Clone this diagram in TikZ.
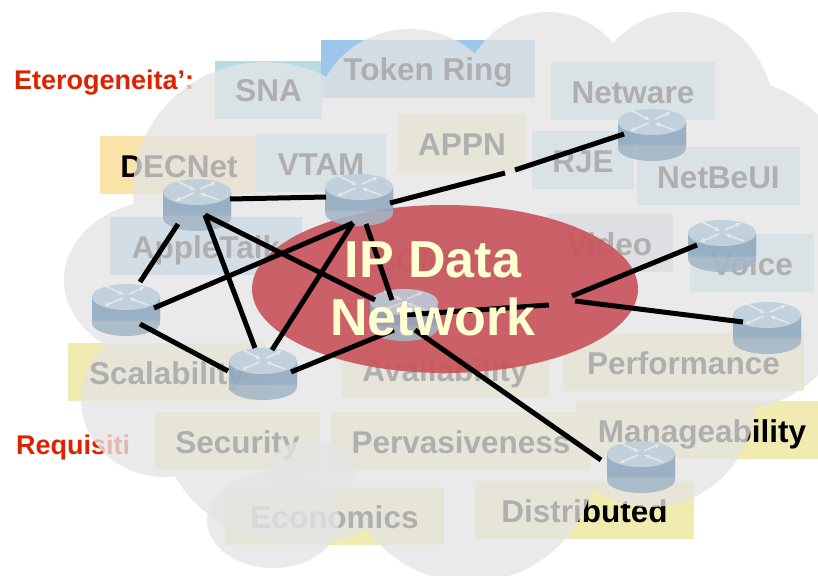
\documentclass[tikz,border=0pt]{standalone}
\usepackage{fontspec}
\setmainfont{Liberation Sans}
\usetikzlibrary{arrows.meta}
\definecolor{ipcol}{HTML}{FFFFD0}
\definecolor{hd}{HTML}{DD2200}
\definecolor{ye}{HTML}{F0EBB0}
\definecolor{bl}{HTML}{9CC6EA}
\definecolor{te}{HTML}{B8DCE4}
\definecolor{or}{HTML}{FAE3A8}
\definecolor{li}{HTML}{CDD0E0}
\definecolor{cloudc}{HTML}{E4E4E4}
\definecolor{ipred}{HTML}{C9525A}
\definecolor{rtop}{HTML}{BCCFDC}
\definecolor{rmid}{HTML}{8FA9BF}
\definecolor{rlow}{HTML}{A3B6C6}
\definecolor{rline}{HTML}{8E9CA8}
\definecolor{rarrow}{HTML}{E6E9EA}
\newcommand{\rectlab}[7]{\fill[#5] (#1,#2) rectangle (#3,#4);
  \node[lan,anchor=base] (#7) at ({(#1+#3)/2},{(#2+#4)/2+12}) {#6};}
\newcommand{\routerat}[3]{\node[coordinate] (#1) at (#2,#3) {};
  \begin{scope}[shift={(#2,#3)},transparency group,opacity=.88]
    \fill[rlow] (0,13) ellipse [x radius=34,y radius=13];
    \fill[rlow] (-34,-13) rectangle (34,13);
    \fill[rmid] (-34,-13) rectangle (34,9);
    \draw[rline,line width=.8pt] (-34,10) -- (34,10);
    \fill[rtop] (0,-13) ellipse [x radius=34,y radius=13];
    \foreach \ax/\ay/\bx/\by in {-20/-24/-2/-15, 3/-16/19/-23, -3/-12/-22/-4, 22/-5/3/-12}
      \draw[rarrow,line width=1.5pt,-{Latex[length=5pt,width=5pt]}] (\ax,\ay) -- (\bx,\by);
  \end{scope}}
\begin{document}
\begin{tikzpicture}[x=1pt,y=-1pt,
  lan/.style={font=\bfseries\fontsize{31.5}{32}\selectfont,inner sep=0pt},
  head/.style={font=\bfseries\fontsize{27}{28}\selectfont,text=hd,inner sep=0pt,anchor=base west},
  over/.style={font=\bfseries\fontsize{52}{58}\selectfont,text=ipcol,inner sep=0pt,anchor=base},
  wire/.style={line width=5pt,black}]
\useasboundingbox (0,0) rectangle (818,575);
\fill[white] (0,0) rectangle (818,575);
\rectlab{215}{61}{322}{119}{te}{SNA}{sna}
\rectlab{321}{40}{535}{98}{bl}{Token Ring}{tr}
\rectlab{551}{62}{715}{120}{te}{Netware}{nw}
\rectlab{100}{136}{258}{194}{or}{DECNet}{dec}
\rectlab{256}{134}{386}{192}{te}{VTAM}{vtam}
\rectlab{398}{114}{526}{173}{ye}{APPN}{appn}
\rectlab{532}{131}{634}{189}{te}{RJE}{rje}
\rectlab{637}{147}{800}{205}{te}{NetBeUI}{nb}
\rectlab{110}{217}{302}{275}{bl}{AppleTalk}{at}
\rectlab{546}{214}{673}{272}{li}{Video}{vid}
\rectlab{690}{234}{814}{292}{te}{Voice}{voi}
\rectlab{354}{230}{503}{288}{bl}{SONET}{son}
\rectlab{68}{343}{266}{401}{ye}{Scalability}{sca}
\rectlab{341}{340}{549}{398}{ye}{Availability}{ava}
\rectlab{563}{333}{804}{391}{ye}{Performance}{per}
\rectlab{155}{412}{320}{470}{ye}{Security}{sec}
\rectlab{331}{412}{591}{470}{ye}{Pervasiveness}{prv}
\rectlab{576}{401}{828}{459}{ye}{Manageability}{man}
\rectlab{225}{487}{444}{545}{ye}{Economics}{eco}
\rectlab{475}{481}{694}{539}{ye}{Distributed}{dis}
\node[head] (het) at (14,90) {Eterogeneita’:};
\node[head] (req) at (16,454) {Requisiti};
% cloud
\fill[cloudc,fill opacity=.77]
  (265,190) ellipse [x radius=132,y radius=128]
  (410,120) ellipse [x radius=95,y radius=91]
  (548,112) ellipse [x radius=90,y radius=100]
  (680,120) ellipse [x radius=95,y radius=108]
  (735,245) ellipse [x radius=135,y radius=165]
  (650,400) ellipse [x radius=105,y radius=107]
  (470,460) ellipse [x radius=125,y radius=122]
  (300,420) ellipse [x radius=140,y radius=125]
  (165,400) ellipse [x radius=84,y radius=77]
  (165,280) ellipse [x radius=101,y radius=80]
  (420,280) ellipse [x radius=280,y radius=170];
\fill[cloudc,fill opacity=.77] (273,520) ellipse [x radius=66,y radius=48];
\fill[cloudc,fill opacity=.77] (312,471) ellipse [x radius=44,y radius=31];
% data network
\fill[ipred,fill opacity=.9] (445,289) ellipse [x radius=193,y radius=84];
% routers
\routerat{r1}{197}{205}
\routerat{r2}{359}{200}
\routerat{r3}{652}{135}
\routerat{r4}{722}{246}
\routerat{r5}{767}{328}
\routerat{r6}{641}{467}
\routerat{r7}{126}{310}
\routerat{r8}{263}{374}
\routerat{r9}{404}{315}
% free ends at the breaks
\coordinate (gapa) at (505,173);
\coordinate (gapb) at (515,170);
\coordinate (gapc) at (549,305);
\coordinate (gapd) at (572,296);
\coordinate (gape) at (575,301);
% links
\draw[wire] ([shift={(33,-6)}]r1) -- ([shift={(-33,-3)}]r2);
\draw[wire] ([shift={(-19,19)}]r1) -- ([shift={(14,-28)}]r7);
\draw[wire] ([shift={(8,10)}]r1) -- ([shift={(-8,-26)}]r8);
\draw[wire] ([shift={(8,10)}]r1) -- ([shift={(-29,-15)}]r9);
\draw[wire] ([shift={(-6,23)}]r2) -- ([shift={(28,-2)}]r7);
\draw[wire] ([shift={(-6,23)}]r2) -- ([shift={(9,-24)}]r8);
\draw[wire] ([shift={(7,24)}]r2) -- ([shift={(-12,-15)}]r9);
\draw[wire] ([shift={(14,14)}]r7) -- ([shift={(-35,-3)}]r8);
\draw[wire] ([shift={(28,-2)}]r8) -- ([shift={(-10,15)}]r9);
\draw[wire] ([shift={(11,15)}]r9) -- ([shift={(-40,-7)}]r6);
\draw[wire] ([shift={(31,3)}]r2) -- (gapa);
\draw[wire] (gapb) -- ([shift={(-28,-1)}]r3);
\draw[wire] (r9) -- (gapc);
\draw[wire] (gapd) -- ([shift={(-25,-1)}]r4);
\draw[wire] (gape) -- ([shift={(-24,-6)}]r5);
% titles
\node[over] (ipd) at (433,277) {IP Data};
\node[over] (ipn) at (433,335) {Network};
\end{tikzpicture}
\end{document}
